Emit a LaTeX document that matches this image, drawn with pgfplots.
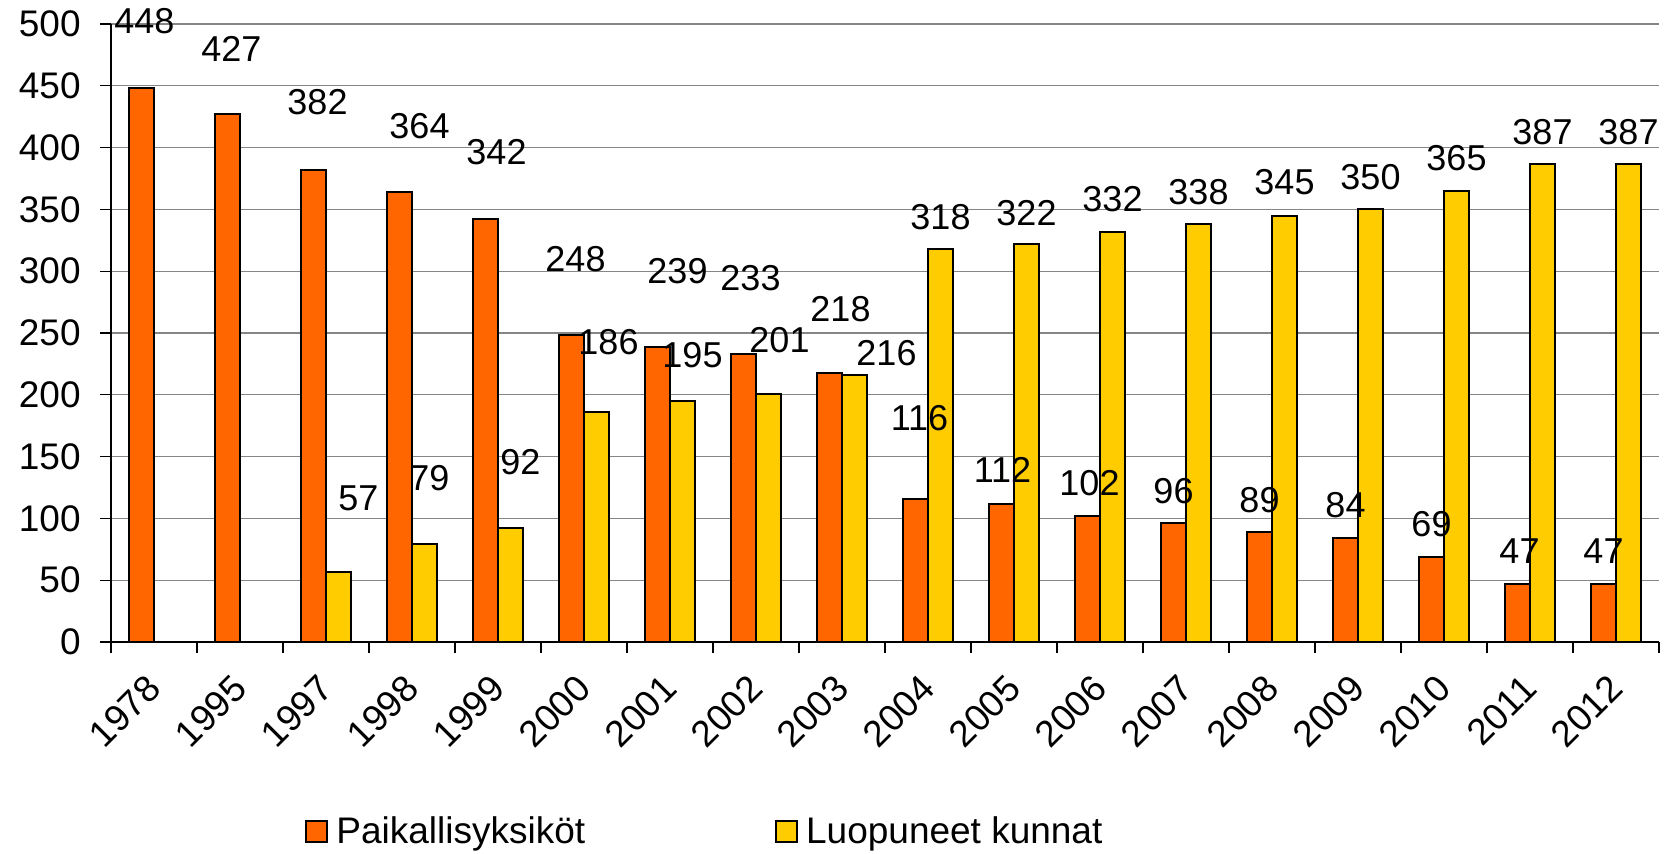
\documentclass[border=0pt]{standalone}
\usepackage{pgfplots}
\pgfplotsset{compat=1.18}
\usepackage{pgfplotstable}
\usepackage{fontspec}
\setmainfont{Liberation Sans}
\definecolor{orangebar}{RGB}{255,102,0}
\definecolor{yellowbar}{RGB}{255,204,0}
\definecolor{gridgray}{RGB}{134,134,134}
\pgfplotsset{rectlegend/.style={legend image code/.code={\draw[##1,line width=1pt] (0pt,-5.25pt) rectangle (10.5pt,5.25pt);}}}

% x = category index, y = value, dx/dy = label offset (px)
\pgfplotstableread{
x y dx dy
0 448 3 67
1 427 4 65
2 382 4 68
3 364 20 66
4 342 11 67
5 248 4 76
6 239 20 75
7 233 7 76
8 218 11 63
9 116 4 81
10 112 1 34
11 102 2 33
12 96 0 32
13 89 0 32
14 84 0 33
15 69 0 33
16 47 2 33
17 47 0 33
}\orangedata

\pgfplotstableread{
x y dx dy
2 57 20 73
3 79 5 66
4 92 10 66
5 186 12 70
6 195 10 46
7 201 11 53
8 216 32 22
9 318 0 32
10 322 0 31
11 332 0 33
12 338 0 32
13 345 0 33
14 350 0 32
15 365 0 33
16 387 0 32
17 387 0 32
}\yellowdata

\begin{document}
\begin{tikzpicture}
\useasboundingbox (-55.5pt,-105.5pt) rectangle (779.5pt,321pt);
\begin{axis}[
  at={(0pt,0pt)}, anchor=south west,
  scale only axis, width=774pt, height=309pt,
  xmin=-0.5, xmax=17.5, ymin=0, ymax=500,
  ytick={0,50,...,500},
  xtick={-0.5,0.5,...,17.5}, xticklabels={},
  extra x ticks={0,1,...,17},
  extra x tick labels={1978,1995,1997,1998,1999,2000,2001,2002,2003,2004,2005,2006,2007,2008,2009,2010,2011,2012},
  extra x tick style={major tick length=0pt},
  xticklabel style={rotate=45, anchor=east, inner sep=0pt},
  xticklabel shift=20pt,
  yticklabel style={anchor=east, inner sep=0pt},
  yticklabel shift=9.5pt,
  tick align=outside, major tick length=5.5pt,
  tick style={black, line width=0.6pt},
  axis lines*=left, axis line style={-, black, line width=0.6pt},
  ymajorgrids, major grid style={gridgray, line width=0.6pt},
  ybar=0pt, bar width=12.5pt,
  tick label style={font=\fontsize{18.5}{20}\selectfont},
  /pgf/number format/assume math mode=true,
  clip=false,
  legend columns=2,
  legend cell align=left,
  legend style={draw=none, fill=none, at={(axis description cs:0.1253,-0.306)}, anchor=west, inner sep=0pt,
    font=\fontsize{18.5}{20}\selectfont, nodes={inner sep=0pt},
    /tikz/every odd column/.style={column sep=4pt},
    /tikz/every even column/.style={column sep=95pt}},
  lbl/.style={nodes near coords,
    visualization depends on={\thisrow{dx} \as \ldx},
    visualization depends on={\thisrow{dy} \as \ldy},
    every node near coord/.append style={font=\fontsize{18}{20}\selectfont, anchor=center, inner sep=0pt, xshift={\ldx*0.5pt}, yshift={\ldy*0.5pt}}},
]
\addplot[fill=orangebar, draw=black, line width=1pt, bar shift=-6.25pt, lbl, forget plot] table[x=x, y=y] {\orangedata};
\addplot[fill=yellowbar, draw=black, line width=1pt, bar shift=6.25pt, lbl, forget plot] table[x=x, y=y] {\yellowdata};
\addlegendimage{rectlegend, fill=orangebar, draw=black}
\addlegendentry{Paikallisyksiköt}
\addlegendimage{rectlegend, fill=yellowbar, draw=black}
\addlegendentry{Luopuneet kunnat}
\end{axis}
\end{tikzpicture}
\end{document}
